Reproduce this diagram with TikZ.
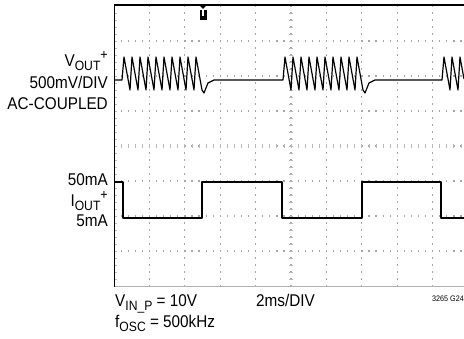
\documentclass[tikz,border=0pt]{standalone}
\usepackage{fontspec}
\setmainfont{Liberation Sans}[FakeStretch=0.9]
\newcommand{\dn}[1]{\raisebox{-0.35ex}{\fontsize{13.5}{13.5}\selectfont #1}}
\newcommand{\up}[1]{\raisebox{0.8ex}{\fontsize{14}{14}\selectfont #1}}
\tikzstyle{lbl}=[inner sep=0pt, font=\fontsize{17}{20}\selectfont]
\tikzstyle{dotline}=[gray!70, line width=1.3pt]
\tikzstyle{tick}=[gray!55, line width=0.7pt]
\tikzstyle{trace}=[black, line width=1.2pt, line join=round]

\begin{document}
\begin{tikzpicture}[x=1pt, y=-1pt]
    \useasboundingbox (0,0) rectangle (464,339);

    % graticule
    \foreach \k in {1,...,9}
        \draw [dotline, dash pattern=on 1.2pt off 5.8pt] ({114+35.4*\k},5.5) -- ({114+35.4*\k},286);
    \foreach \k in {1,...,7}
        \draw [dotline, dash pattern=on 1.2pt off 5.88pt] (113.5,{6+35*\k}) -- (464,{6+35*\k});
    \foreach \i in {1,...,39} {
        \draw [tick] (289,{6+7*\i}) -- (293,{6+7*\i});
        \draw [tick] (114,{6+7*\i}) -- (117,{6+7*\i});
    }
    \foreach \i in {1,...,49}
        \draw [tick] ({114+7.08*\i},144) -- ({114+7.08*\i},148);
    \draw [gray!60, line width=1.2pt] (114,286.5) -- (464,286.5);
    \draw [black, line width=2pt] (114,5) -- (464,5);
    \draw [black, line width=1pt] (114,4) -- (114,287);

    % trigger mark
    \fill (199,5) -- (207,5) -- (203,9) -- cycle;
    \fill (199.5,10) rectangle (206.5,20);
    \fill [white] (201.7,10) rectangle (204.3,16.5);

    % VOUT trace
    \draw [trace] (114,80) -- (122,80)
        \foreach \i in {0,...,9} { -- ({124+8*\i},57) -- ({130+8*\i},90) }
        -- (204,93) -- (208,83) -- (214,80) -- (283,80)
        \foreach \i in {0,...,9} { -- ({285+8*\i},57) -- ({291+8*\i},90) }
        -- (365,93) -- (369,83) -- (375,80) -- (442,80)
        -- (444,57) -- (450,90) -- (452,57) -- (458,90) -- (460,57) -- (464,79);

    % IOUT trace
    \draw [trace] (114,182) -- (123,182) -- (123,218) -- (202,218) -- (202,182)
        -- (282,182) -- (282,218) -- (362,218) -- (362,182) -- (441,182)
        -- (441,218) -- (464,218);

    % labels
    \node [lbl, anchor=base east] (vout) at (108,67) {V\dn{OUT}\up{+}};
    \node [lbl, anchor=base east] (vdiv) at (108,89) {500mV/DIV};
    \node [lbl, anchor=base east] (acc) at (108,110) {AC-COUPLED};
    \node [lbl, anchor=base east] (ihi) at (108,186) {50mA};
    \node [lbl, anchor=base east] (iout) at (108,207) {I\dn{OUT}\up{+}};
    \node [lbl, anchor=base east] (ilo) at (108,227) {5mA};
    \node [lbl, anchor=base west] (vin) at (115,307) {V\dn{IN\_P} = 10V};
    \node [lbl, anchor=base west] (fosc) at (115,328) {f\dn{OSC} = 500kHz};
    \node [lbl, anchor=base west] (tdiv) at (256,307) {2ms/DIV};
    \node [inner sep=0pt, anchor=base east, font=\fontsize{8}{8}\selectfont] (fig) at (464,302) {3265 G24};
\end{tikzpicture}
\end{document}
